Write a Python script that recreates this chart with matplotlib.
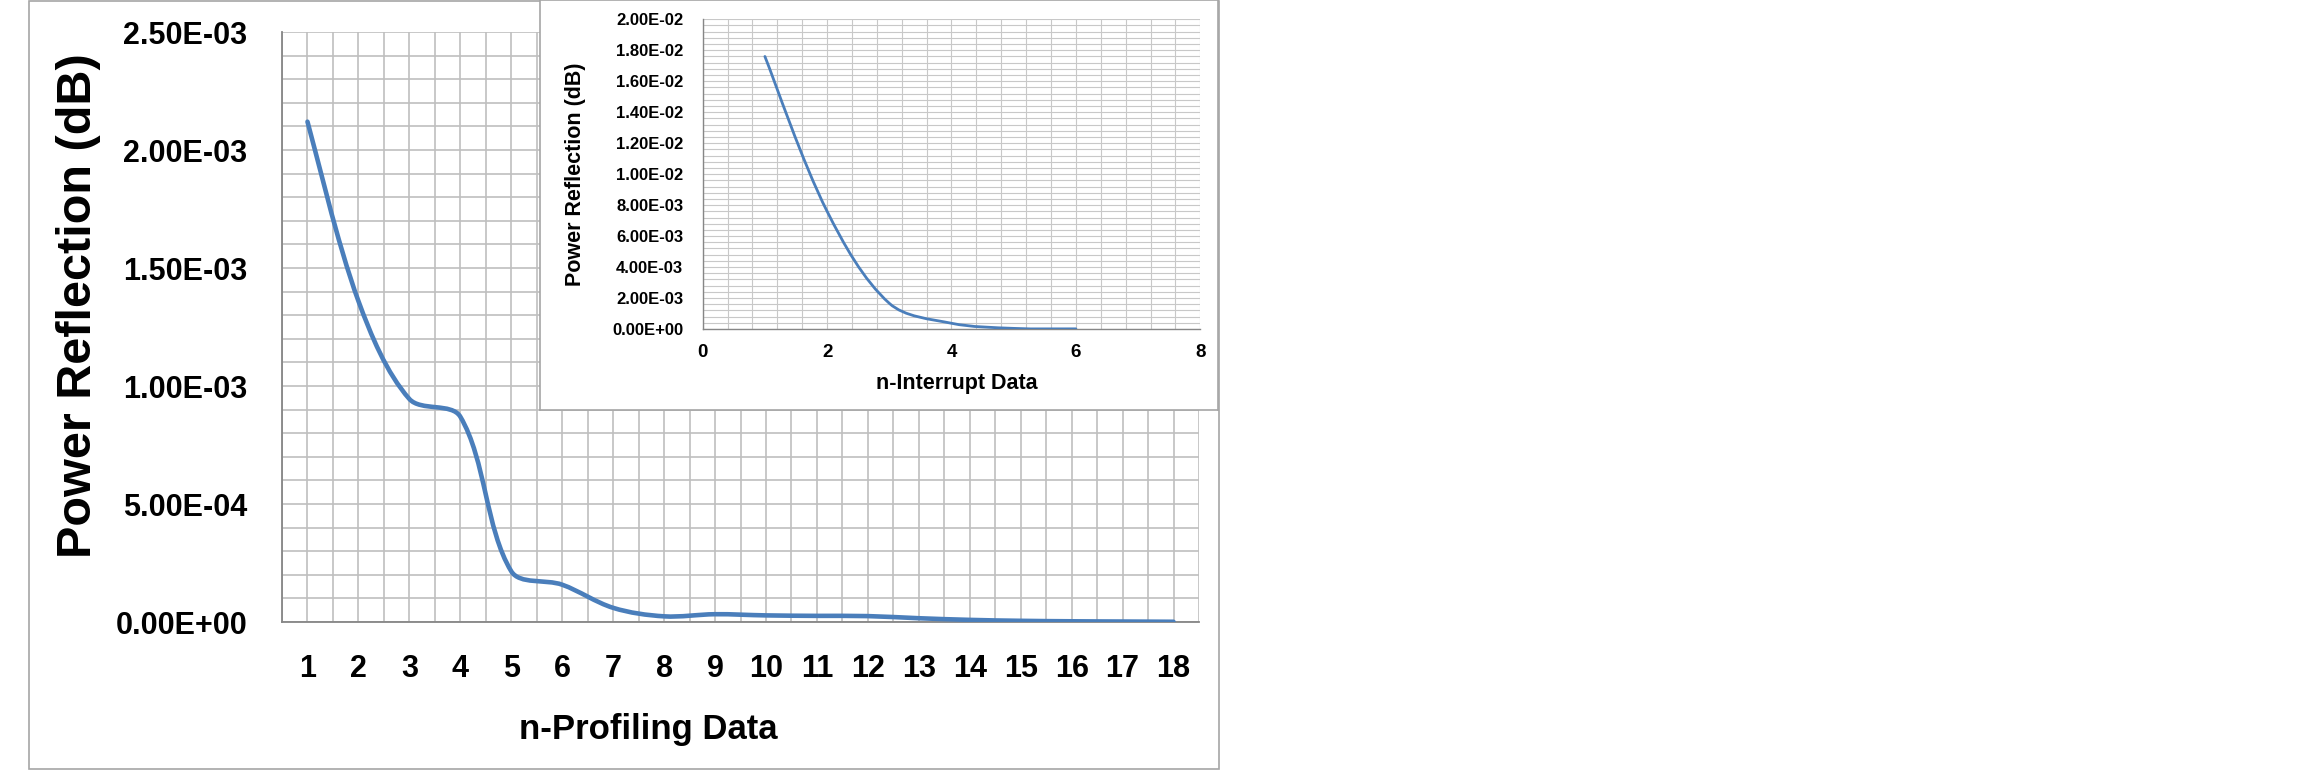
import matplotlib
matplotlib.use("Agg")
import matplotlib.pyplot as plt
import numpy as np
from matplotlib.path import Path
from matplotlib.patches import PathPatch, Rectangle
from matplotlib.ticker import MultipleLocator, FormatStrFormatter

plt.rcParams['font.family'] = ['Liberation Sans', 'DejaVu Sans']
plt.rcParams['font.weight'] = 'bold'

# --- data ------------------------------------------------------
profiling_n = list(range(1, 19))
profiling_reflection = [2.12e-3, 1.36e-3, 0.945e-3, 0.87e-3, 0.215e-3, 0.158e-3,
                        0.06e-3, 0.024e-3, 0.033e-3, 0.028e-3, 0.026e-3, 0.025e-3,
                        0.016e-3, 0.009e-3, 0.005e-3, 0.003e-3, 0.002e-3, 0.001e-3]

interrupt_n = [1, 2, 3, 4, 5, 6]
interrupt_reflection = [1.76e-2, 7.6e-3, 1.66e-3, 3.7e-4, 4e-5, 1e-5]

LINE_BLUE = '#4a7ebb'
GRID_GREY = '#bfbfbf'
AXIS_GREY = '#868686'


def smooth_path(ax, xs, ys):
    # smoothed line like Excel: cubic bezier, tangents weighted by segment length on screen
    pts = ax.transData.transform(np.column_stack([xs, ys]))
    n = len(pts)
    d = [np.hypot(*(pts[i + 1] - pts[i])) for i in range(n - 1)]
    verts = [pts[0]]
    codes = [Path.MOVETO]
    for i in range(n - 1):
        if i == 0:
            c1 = pts[i] + (pts[i + 1] - pts[i]) / 6
        else:
            c1 = pts[i] + (pts[i + 1] - pts[i - 1]) * d[i] / (d[i - 1] + d[i]) / 3
        if i == n - 2:
            c2 = pts[i + 1] - (pts[i + 1] - pts[i]) / 6
        else:
            c2 = pts[i + 1] - (pts[i + 2] - pts[i]) * d[i] / (d[i] + d[i + 1]) / 3
        verts += [c1, c2, pts[i + 1]]
        codes += [Path.CURVE4] * 3
    verts = ax.transData.inverted().transform(np.array(verts))
    return Path(verts, codes)


W, H = 2310, 771
fig = plt.figure(figsize=(W / 100, H / 100), dpi=100)

# outer chart frame
fig.patches.append(Rectangle((29 / W, 1 - 769 / H), (1219 - 29) / W, 768 / H,
                             transform=fig.transFigure, fill=False,
                             edgecolor='#a6a6a6', lw=1.2, zorder=0))

# --- main chart -------------------------------------------------
ax = fig.add_axes([282 / W, 1 - 622 / H, (1199 - 282) / W, (622 - 32) / H], zorder=0)
ax.set_xlim(0.5, 18.5)
ax.set_ylim(0, 2.5e-3)
ax.add_patch(PathPatch(smooth_path(ax, profiling_n, profiling_reflection),
                       fill=False, edgecolor=LINE_BLUE, lw=3.3,
                       capstyle='round', joinstyle='round', zorder=3))
ax.xaxis.set_major_locator(MultipleLocator(1))
ax.xaxis.set_minor_locator(MultipleLocator(0.5))
ax.yaxis.set_major_locator(MultipleLocator(5e-4))
ax.yaxis.set_minor_locator(MultipleLocator(1e-4))
ax.yaxis.set_major_formatter(FormatStrFormatter('%.2E'))
ax.set_xticks(profiling_n)
ax.set_xticklabels([str(n) for n in profiling_n])
ax.grid(which='both', color=GRID_GREY, lw=1.2)
ax.set_axisbelow(True)
ax.tick_params(which='both', length=0)
ax.tick_params(axis='y', labelsize=22, pad=25)
ax.tick_params(axis='x', labelsize=22, pad=23)
for s in ['top', 'right']:
    ax.spines[s].set_visible(False)
for s in ['left', 'bottom']:
    ax.spines[s].set_color(AXIS_GREY)
    ax.spines[s].set_linewidth(1.3)

fig.text(648 / W, 1 - 739 / H, 'n-Profiling Data', ha='center', va='baseline',
         fontsize=25, fontweight='bold')
fig.text(79 / W, 1 - 306 / H, 'Power Reflection (dB)', ha='center', va='center',
         rotation=90, fontsize=35, fontweight='bold')

# --- inset box and chart ----------------------------------------
box = fig.add_axes([540 / W, 1 - 410 / H, (1218 - 540) / W, 410 / H], zorder=1)
box.set_xticks([])
box.set_yticks([])
box.set_facecolor('white')
for s in box.spines.values():
    s.set_color('#a6a6a6')
    s.set_linewidth(1.2)

inset = fig.add_axes([702.7 / W, 1 - 329 / H, (1200.3 - 702.7) / W, (329 - 19.3) / H], zorder=2)
inset.set_xlim(0, 8)
inset.set_ylim(0, 0.02)
inset.add_patch(PathPatch(smooth_path(inset, interrupt_n, interrupt_reflection),
                          fill=False, edgecolor=LINE_BLUE, lw=2.0,
                          capstyle='round', zorder=3))
inset.xaxis.set_major_locator(MultipleLocator(2))
inset.xaxis.set_minor_locator(MultipleLocator(0.4))
inset.yaxis.set_major_locator(MultipleLocator(2e-3))
inset.yaxis.set_minor_locator(MultipleLocator(4e-4))
inset.yaxis.set_major_formatter(FormatStrFormatter('%.2E'))
inset.grid(which='both', color='#c8c8c8', lw=0.8)
inset.set_axisbelow(True)
inset.tick_params(which='both', length=0)
inset.tick_params(axis='y', labelsize=12, pad=14)
inset.tick_params(axis='x', labelsize=13.5, pad=11)
for s in ['top', 'right']:
    inset.spines[s].set_visible(False)
for s in ['left', 'bottom']:
    inset.spines[s].set_color(AXIS_GREY)
    inset.spines[s].set_linewidth(1.0)

fig.text(957 / W, 1 - 389 / H, 'n-Interrupt Data', ha='center', va='baseline',
         fontsize=15.5, fontweight='bold')
fig.text(575 / W, 1 - 174.5 / H, 'Power Reflection (dB)', ha='center', va='center',
         rotation=90, fontsize=15.5, fontweight='bold')

fig.savefig('out.png', dpi=100)
